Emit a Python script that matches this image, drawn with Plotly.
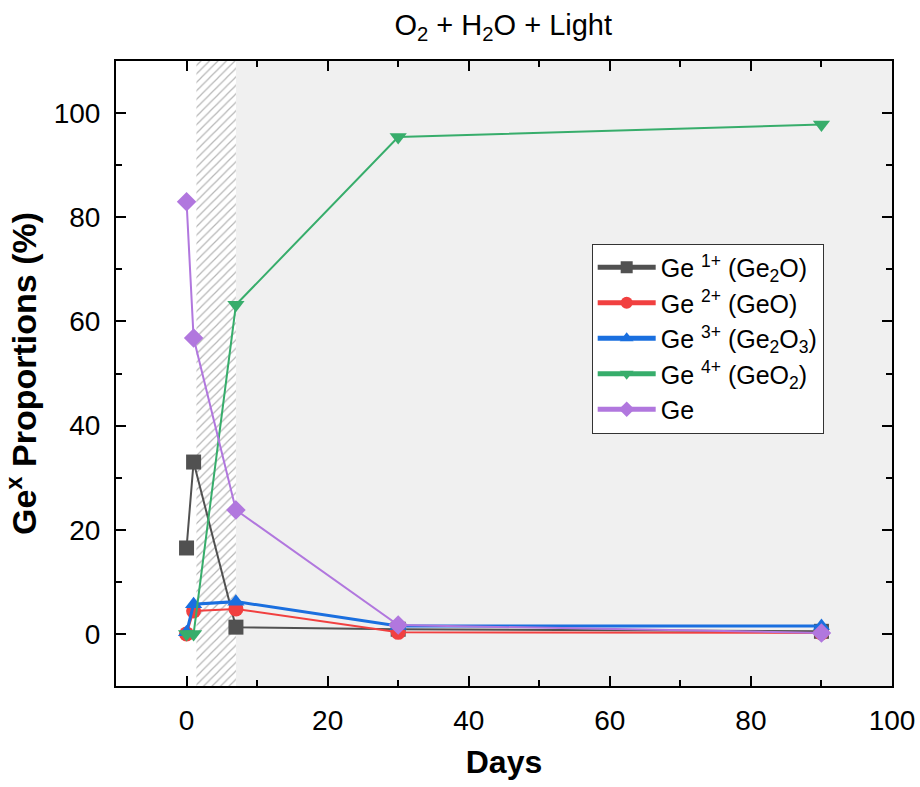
import plotly.graph_objects as go

days = [0, 1, 7, 30, 90]
ge1 = [16.5, 33.0, 1.3, 0.9, 0.5]
ge2 = [0.0, 4.4, 4.8, 0.3, 0.2]
ge3 = [0.3, 5.7, 6.2, 1.5, 1.5]
ge4 = [0.0, 0.0, 63.2, 95.4, 97.8]
ge0 = [83.0, 56.8, 23.8, 1.7, 0.2]

series_names = [
    "Ge <sup>1+</sup> (Ge<sub>2</sub>O)",
    "Ge <sup>2+</sup> (GeO)",
    "Ge <sup>3+</sup> (Ge<sub>2</sub>O<sub>3</sub>)",
    "Ge <sup>4+</sup> (GeO<sub>2</sub>)",
    "Ge",
]
series_values = [ge1, ge2, ge3, ge4, ge0]
colors = ["#515151", "#F14040", "#1A6FDF", "#37AD6B", "#B177DE"]
symbols = ["square", "circle", "triangle-up", "triangle-down", "diamond"]
widths = [2, 2, 3, 2, 2]

hatch_start, hatch_end = 1.4, 7.0
gray_start, gray_end = 7.0, 100.0
x_range = [-10, 100]
y_range = [-10, 110]

FONT = "Arial, Liberation Sans, sans-serif"

fig = go.Figure()

# hatched region
fig.add_trace(go.Scatter(
    x=[hatch_start, hatch_end, hatch_end, hatch_start, hatch_start],
    y=[y_range[0], y_range[0], y_range[1], y_range[1], y_range[0]],
    mode="none", fill="toself", fillcolor="rgba(0,0,0,0)",
    fillpattern=dict(shape="/", fgcolor="#6e6e6e", bgcolor="white", size=6, solidity=0.2),
    showlegend=False, hoverinfo="skip",
))

for name, vals, c, s, w in zip(series_names, series_values, colors, symbols, widths):
    fig.add_trace(go.Scatter(
        x=days, y=vals, name=name, mode="lines+markers",
        line=dict(color=c, width=w),
        marker=dict(symbol=s, size=15, color=c),
    ))

fig.add_shape(type="rect", xref="x", yref="y", x0=gray_start, x1=gray_end,
              y0=y_range[0], y1=y_range[1], fillcolor="#F0F0F0", line=dict(width=0),
              layer="below")

axis_common = dict(
    showline=True, linecolor="black", linewidth=2, mirror="allticks",
    ticks="inside", ticklen=10, tickwidth=2, tickcolor="black",
    showgrid=False, zeroline=False, automargin=False,
    tickfont=dict(family=FONT, size=28, color="black"),
)

fig.update_xaxes(range=x_range, dtick=20, tick0=0, ticklabelstandoff=8,
                 minor=dict(ticks="inside", ticklen=6, tickwidth=2, dtick=10, tick0=0, tickcolor="black"),
                 title=dict(text="Days", font=dict(family=FONT, size=32, color="black", weight="bold"), standoff=16),
                 **axis_common)
fig.update_yaxes(range=y_range, dtick=20, tick0=0, ticklabelstandoff=8,
                 minor=dict(ticks="inside", ticklen=6, tickwidth=2, dtick=10, tick0=0, tickcolor="black"),
                 title=dict(text="Ge<sup>x</sup> Proportions (%)", font=dict(family=FONT, size=34, color="black", weight="bold"), standoff=8),
                 **axis_common)

fig.update_layout(
    width=920, height=787,
    margin=dict(l=116, r=28, t=61, b=101),
    paper_bgcolor="white", plot_bgcolor="white",
    title=dict(text="O<sub>2</sub> + H<sub>2</sub>O + Light", x=0.547, xanchor="center",
               y=0.968, yanchor="middle", font=dict(family=FONT, size=29, color="black")),
    legend=dict(x=0.613, y=0.708, xanchor="left", yanchor="top",
                bgcolor="white", bordercolor="#333333", borderwidth=1,
                font=dict(family=FONT, size=25, color="black"),
                itemsizing="constant", itemwidth=58, tracegroupgap=0),
    font=dict(family=FONT),
)

fig.write_html("out.html", config={"displayModeBar": False},
               post_script="document.body.style.margin='0';document.body.style.overflow='hidden';")
